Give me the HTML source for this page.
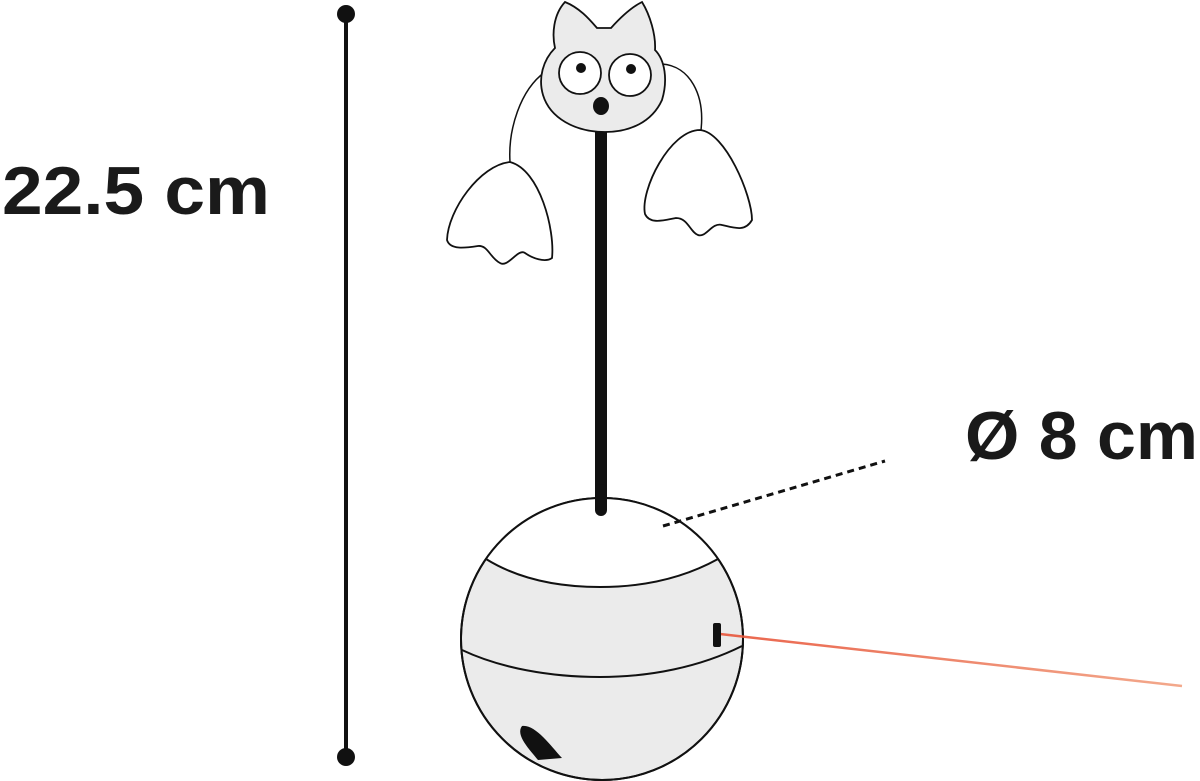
<!DOCTYPE html>
<html><head><style>
html,body{margin:0;padding:0;background:#fff;width:1200px;height:781px;overflow:hidden}
svg{position:absolute;left:0;top:0}
.t{font-family:"Liberation Sans",sans-serif;font-weight:bold;fill:#1a1a1a}
</style></head><body>
<svg width="1200" height="781" viewBox="0 0 1200 781">
<defs>
<linearGradient id="lz" x1="0" y1="0" x2="1" y2="0">
<stop offset="0" stop-color="#e8553a"/><stop offset="1" stop-color="#f2a080"/>
</linearGradient>
</defs>
<line x1="346" y1="14" x2="346" y2="757" stroke="#111" stroke-width="4"/>
<circle cx="346" cy="14" r="9" fill="#111"/>
<circle cx="346" cy="757" r="9" fill="#111"/>
<text class="t" x="2" y="214" font-size="68" textLength="268" lengthAdjust="spacingAndGlyphs">22.5 cm</text>
<text class="t" x="965" y="459" font-size="68" textLength="233" lengthAdjust="spacingAndGlyphs">Ø 8 cm</text>
<path d="M545 72 C520 90 508 130 510 162" fill="none" stroke="#111" stroke-width="1.5"/>
<path d="M662 64 C690 66 705 95 701 130" fill="none" stroke="#111" stroke-width="1.5"/>
<path d="M510 162 C540 170 555 230 552 258 C545 263 532 258 525 253 C518 248 508 268 500 263 C490 258 488 245 478 246 C465 248 450 250 447 240 C448 210 480 165 510 162 Z" fill="#fff" stroke="#111" stroke-width="1.8"/>
<path d="M700 130 C725 132 752 195 752 220 C745 232 735 228 722 225 C712 222 706 238 698 235 C690 232 688 218 676 218 C665 220 650 225 645 214 C640 190 670 130 700 130 Z" fill="#fff" stroke="#111" stroke-width="1.8"/>
<line x1="601" y1="125" x2="601" y2="510" stroke="#111" stroke-width="12" stroke-linecap="round"/>
<path d="M555 48 C552 35 553 15 565 2 C580 8 590 20 597 28 L611 28 C620 18 630 8 642 2 C650 15 656 35 655 50 C665 60 668 80 662 100 C652 122 630 132 605 132 C575 132 550 118 543 95 C538 78 543 60 555 48 Z" fill="#ebebeb" stroke="#111" stroke-width="1.8"/>
<circle cx="580" cy="73" r="21" fill="#fff" stroke="#111" stroke-width="1.8"/>
<circle cx="630" cy="75" r="21" fill="#fff" stroke="#111" stroke-width="1.8"/>
<circle cx="581" cy="68" r="5" fill="#111"/>
<circle cx="631" cy="69" r="5" fill="#111"/>
<ellipse cx="601" cy="106" rx="8" ry="9" fill="#111"/>
<circle cx="602" cy="639" r="141" fill="#ebebeb" stroke="#111" stroke-width="2"/>
<path d="M486 559 A141 141 0 0 1 718 559 C680 580 640 587 600 587 C560 587 520 580 486 559 Z" fill="#fff"/>
<circle cx="602" cy="639" r="141" fill="none" stroke="#111" stroke-width="2"/>
<path d="M486 559 C520 580 560 587 600 587 C640 587 680 580 718 559" fill="none" stroke="#111" stroke-width="2"/>
<path d="M462 650 C500 668 550 677 600 677 C650 677 700 667 742 646" fill="none" stroke="#111" stroke-width="2"/>
<line x1="601" y1="490" x2="601" y2="510" stroke="#111" stroke-width="12" stroke-linecap="round"/>
<path d="M522 726 C535 724 550 745 562 758 L538 760 C530 750 515 735 522 726 Z" fill="#111"/>
<line x1="720" y1="634" x2="1182" y2="686" stroke="url(#lz)" stroke-width="2.5" opacity="0.9"/>
<rect x="713" y="623" width="8" height="24" rx="2" fill="#111"/>
<line x1="663" y1="526" x2="885" y2="461" stroke="#111" stroke-width="3" stroke-dasharray="7 5"/>
</svg>
</body></html>
